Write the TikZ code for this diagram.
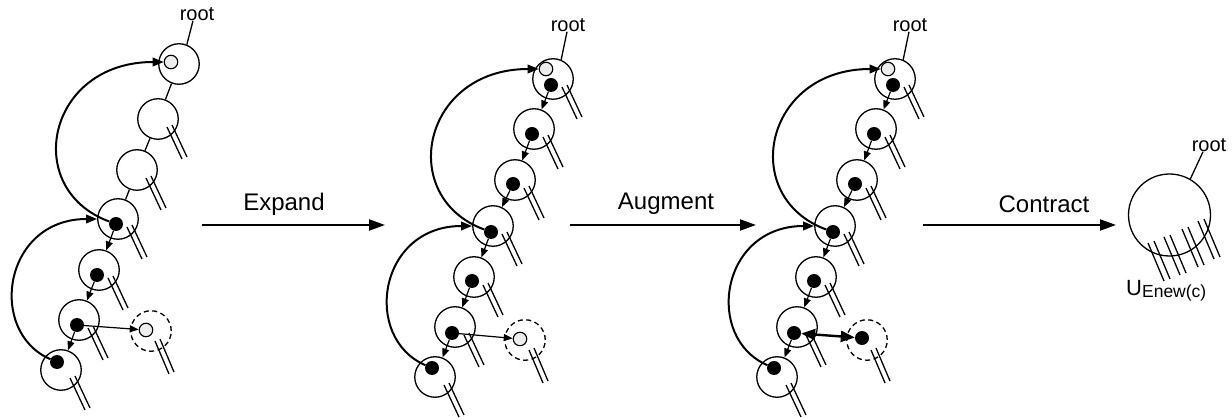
\documentclass[tikz,border=0pt]{standalone}
\usepackage{fontspec}
\setmainfont{Liberation Sans}
\usetikzlibrary{arrows.meta}

% A chain of rings shared by the "expanded" and "augmented" stages.
% #1 = name prefix
\newcommand\expandedchain[1]{%
  \node[ring] (#1r)  at (553,79)  {};
  \node[gdot] (#1rg) at (546,69)  {};
  \node[bdot] (#1d1) at (551,85)  {};
  \node[ring] (#1c2) at (534,129) {};
  \node[bdot] (#1d2) at (532,134) {};
  \node[ring] (#1c3) at (515,180) {};
  \node[bdot] (#1d3) at (513,184) {};
  \node[ring] (#1c4) at (493,226) {};
  \node[bdot] (#1d4) at (491,232) {};
  \node[ring] (#1c5) at (474,277) {};
  \node[bdot] (#1d5) at (472,281) {};
  \node[ring] (#1c6) at (455,327) {};
  \node[bdot] (#1d6) at (452,333) {};
  \node[ring] (#1c7) at (435,377) {};
  \node[bdot] (#1d7) at (432,368) {};
  \node[dring] (#1x) at (525,340) {};
  \foreach \c in {r,c2,c3,c4,c5,c6,c7} \pic at (#1\c) {legs};
  \pic at (#1x) {dlegs};
  \node[lbl] (#1rl) at (568,25) {root};
  \draw[thin line] ([xshift=-1pt]#1rl.south) -- (#1r.67);
  \draw[ptr] (#1d1) -- (#1c2);
  \draw[ptr] (#1d2) -- (#1c3);
  \draw[ptr] (#1d3) -- (#1c4);
  \draw[ptr] (#1d4) -- (#1c5);
  \draw[ptr] (#1d5) -- (#1c6);
  \draw[ptr] (#1d6) -- (#1c7);
  \draw[loop] (#1d4) .. controls +(-95,-35) and +(-124,0) .. (#1rg);
  \draw[loop] (#1d7) .. controls +(-70,-30) and +(-115,0) .. (#1c4);
}

\begin{document}
\begin{tikzpicture}[x=1pt,y=-1pt,
  ring/.style={circle,draw,line width=1.3pt,minimum size=40.5pt,inner sep=0pt},
  dring/.style={ring,dash pattern=on 5pt off 3.5pt},
  bigring/.style={circle,draw,line width=1.3pt,minimum size=82pt,inner sep=0pt},
  bdot/.style={circle,fill=black,minimum size=14pt,inner sep=0pt},
  gdot/.style={circle,draw,fill=black!7,line width=1.1pt,minimum size=13.5pt,inner sep=0pt},
  thin line/.style={line width=1.3pt},
  ptr/.style={line width=1.2pt,-{Triangle[length=9pt,width=7pt]}},
  loop/.style={line width=2pt,-{Triangle[length=11pt,width=8.5pt]}},
  flow/.style={line width=2pt,-{Triangle[length=16pt,width=11pt]}},
  swap/.style={line width=2.4pt,{Triangle[length=14pt,width=11pt]}-{Triangle[length=14pt,width=11pt]}},
  lbl/.style={font=\fontsize{20}{24}\selectfont,inner sep=0pt},
  op/.style={font=\fontsize{24}{28}\selectfont,inner sep=0pt},
  legs/.pic={\draw[line width=1.3pt] (9,8)--(24,40) (14,6)--(29,38);},
  dlegs/.pic={\draw[line width=1.3pt] (4,10)--(18,43) (9,8)--(23,41);}
]
\useasboundingbox (0,0) rectangle (1232,419);

% ---------- stage 1: original tree ----------
\node[ring] (p1r)  at (179,64)  {};
\node[gdot] (p1g)  at (171,62)  {};
\node[ring] (p1c2) at (158,119) {};
\node[ring] (p1c3) at (137,170) {};
\node[ring] (p1c4) at (118,219) {};
\node[bdot] (p1d4) at (116,224) {};
\node[ring] (p1c5) at (99,270)  {};
\node[bdot] (p1d5) at (97,275)  {};
\node[ring] (p1c6) at (79,320)  {};
\node[bdot] (p1d6) at (77,325)  {};
\node[ring] (p1c7) at (61,370)  {};
\node[bdot] (p1d7) at (57,362)  {};
\node[dring] (p1x) at (151,331) {};
\node[gdot] (p1xg) at (146,330) {};
\foreach \c in {c2,c3,c4,c5,c6,c7} \pic at (p1\c) {legs};
\pic at (p1x) {dlegs};
\node[lbl] (p1rl) at (197,14) {root};
\draw[thin line] ([xshift=-4pt]p1rl.south) -- (p1r.68);
\draw[thin line] (p1r) -- (p1c2);
\draw[thin line] (p1c2) -- (p1c3);
\draw[thin line] (p1c3) -- (p1c4);
\draw[ptr] (p1d4) -- (p1c5);
\draw[ptr] (p1d5) -- (p1c6);
\draw[ptr] (p1d6) -- (p1c7);
\draw[ptr] (p1d6) -- (p1xg);
\draw[loop] (p1d4) .. controls +(-95,-35) and +(-124,0) .. (p1g);
\draw[loop] (p1d7) .. controls +(-70,-30) and +(-115,0) .. (p1c4);

% ---------- stage 2: expanded ----------
\expandedchain{p2}
\node[gdot] (p2xg) at (520,339) {};
\draw[ptr] (p2d6) -- (p2xg);

% ---------- stage 3: augmented ----------
\begin{scope}[xshift=342pt]
\expandedchain{p3}
\node[bdot] (p3xd) at (520,338) {};
\draw[swap] (p3d6) -- (p3xd);
\end{scope}

% ---------- stage 4: contracted ----------
\node[bigring] (p4) at (1169.5,215) {};
\node[lbl] (p4rl) at (1209,145) {root};
\draw[thin line] ([xshift=-6pt]p4rl.south) -- (p4.60);
\foreach \dx/\dy in {0/0,16/-6,34/-14,50/-22}
  \draw[thin line] (1148+\dx,243+\dy) -- ++(16,38) (1154+\dx,241+\dy) -- ++(16,38);
\node[lbl,anchor=base west] (p4u) at (1126,296)
  {\fontsize{22}{24}\selectfont U\raisebox{-2pt}{\fontsize{17.5}{18}\selectfont Enew(c)}};

% ---------- operations ----------
\coordinate (a1s) at (202,225);  \coordinate (a1e) at (385,225);
\coordinate (a2s) at (570,225);  \coordinate (a2e) at (756,225);
\coordinate (a3s) at (923,225);  \coordinate (a3e) at (1116,225);
\draw[flow] (a1s) -- (a1e);
\draw[flow] (a2s) -- (a2e);
\draw[flow] (a3s) -- (a3e);
\node[op] (o1) at (284,204) {Expand};
\node[op] (o2) at (666,204) {Augment};
\node[op] (o3) at (1044,204) {Contract};
\end{tikzpicture}
\end{document}
